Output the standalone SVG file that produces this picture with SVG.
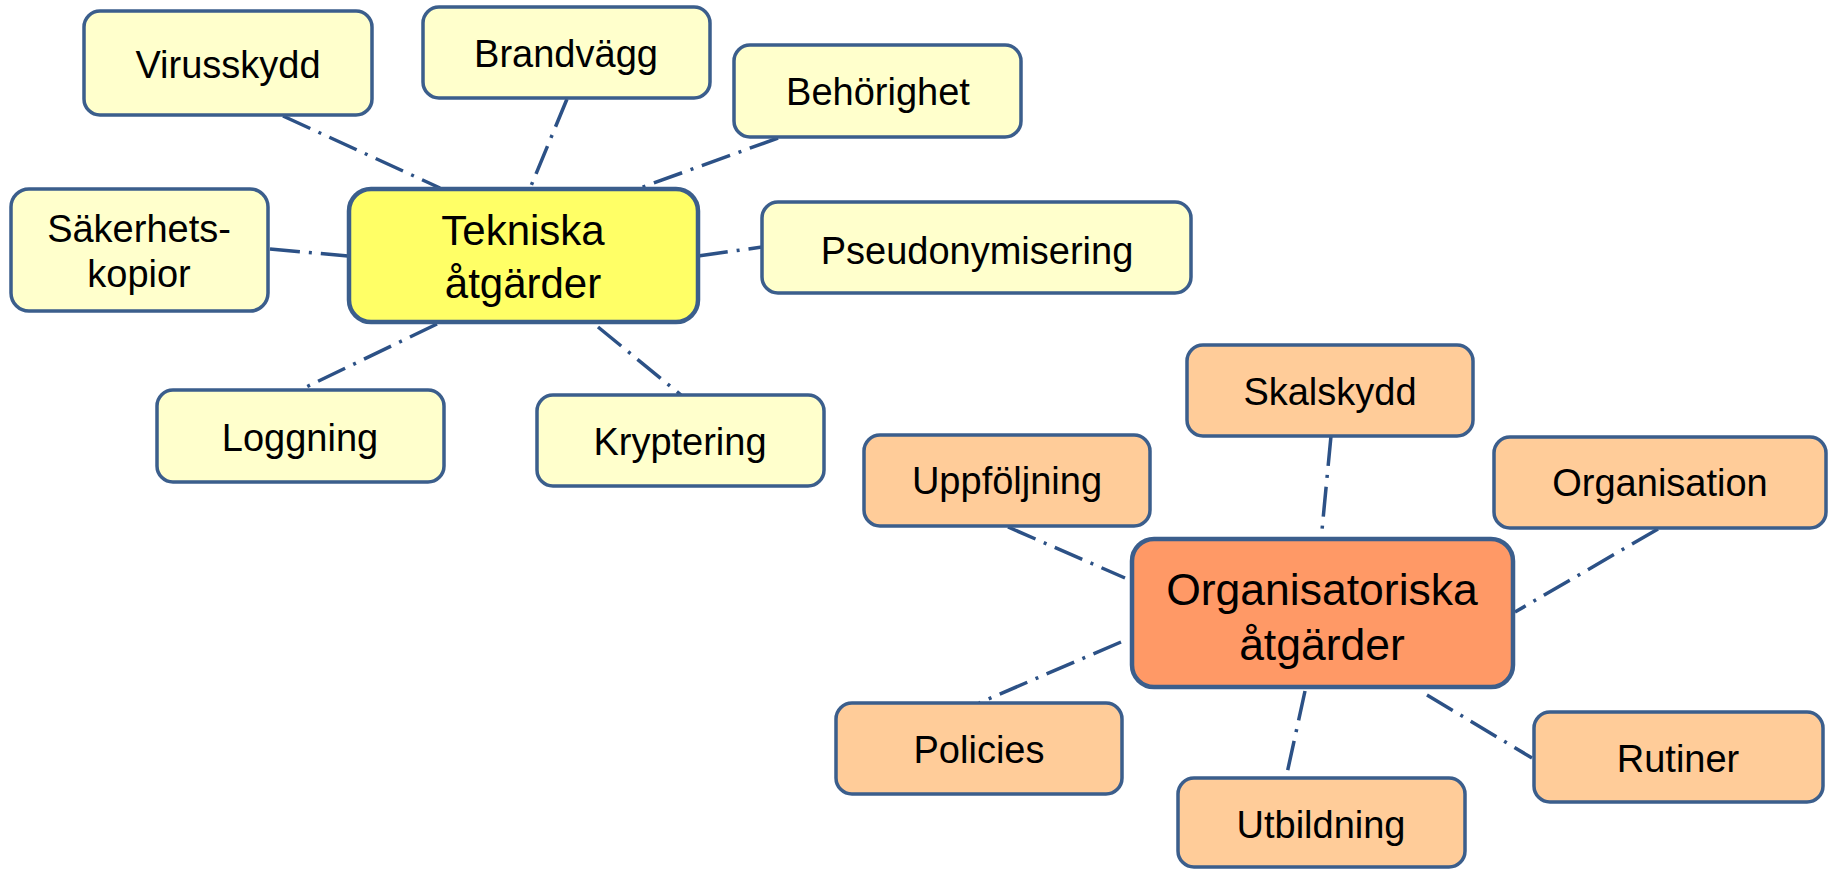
<svg xmlns="http://www.w3.org/2000/svg" width="1831" height="869" viewBox="0 0 1831 869">
<style>
.box{stroke:#3B5E8C;stroke-width:3.5}
.main{stroke:#3B5E8C;stroke-width:4.5}
.t1{fill:#FFFFCC}.t0{fill:#FFFF66}.o1{fill:#FFCC99}.o0{fill:#FF9966}
text{font-family:"Liberation Sans",Arial,sans-serif;fill:#000;text-anchor:middle}
.s{font-size:38px}.m{font-size:42px}.m2{font-size:44.5px}
#connectors line{stroke:#2C5186;stroke-width:3.5;stroke-dasharray:30 9 3 9;fill:none}
</style>
<rect width="1831" height="869" fill="#FFFFFF"/>
<g id="connectors">
<line x1="283" y1="116" x2="440" y2="188"/>
<line x1="567" y1="99" x2="531" y2="186"/>
<line x1="778" y1="138" x2="640" y2="188"/>
<line x1="270" y1="249" x2="348" y2="256"/>
<line x1="698" y1="256" x2="762" y2="247"/>
<line x1="437" y1="324" x2="300" y2="390"/>
<line x1="598" y1="327" x2="681" y2="395"/>
<line x1="1331" y1="436" x2="1322" y2="530"/>
<line x1="1008" y1="527" x2="1125" y2="578"/>
<line x1="1658" y1="529" x2="1515" y2="612"/>
<line x1="1121" y1="642" x2="979" y2="703"/>
<line x1="1305" y1="691" x2="1286" y2="778"/>
<line x1="1427" y1="695" x2="1532" y2="758"/>
</g>
<g id="virusskydd"><rect class="box t1" x="84" y="11" width="288" height="104" rx="16"/><text class="s" x="228" y="78">Virusskydd</text></g>
<g id="brandvagg"><rect class="box t1" x="423" y="7" width="287" height="91" rx="16"/><text class="s" x="566" y="67">Brandvägg</text></g>
<g id="behorighet"><rect class="box t1" x="734" y="45" width="287" height="92" rx="16"/><text class="s" x="878" y="105">Behörighet</text></g>
<g id="sakerhetskopior"><rect class="box t1" x="11" y="189" width="257" height="122" rx="18"/><text class="s" x="139" y="242">Säkerhets-</text><text class="s" x="139" y="287">kopior</text></g>
<g id="tekniska"><rect class="main t0" x="349" y="189" width="349" height="133" rx="22"/><text class="m" x="523" y="245">Tekniska</text><text class="m" x="523" y="298">åtgärder</text></g>
<g id="pseudonymisering"><rect class="box t1" x="762" y="202" width="429" height="91" rx="16"/><text class="s" x="977" y="264">Pseudonymisering</text></g>
<g id="loggning"><rect class="box t1" x="157" y="390" width="287" height="92" rx="16"/><text class="s" x="300" y="451">Loggning</text></g>
<g id="kryptering"><rect class="box t1" x="537" y="395" width="287" height="91" rx="16"/><text class="s" x="680" y="455">Kryptering</text></g>
<g id="skalskydd"><rect class="box o1" x="1187" y="345" width="286" height="91" rx="16"/><text class="s" x="1330" y="405">Skalskydd</text></g>
<g id="uppfoljning"><rect class="box o1" x="864" y="435" width="286" height="91" rx="16"/><text class="s" x="1007" y="494">Uppföljning</text></g>
<g id="organisation"><rect class="box o1" x="1494" y="437" width="332" height="91" rx="16"/><text class="s" x="1660" y="496">Organisation</text></g>
<g id="organisatoriska"><rect class="main o0" x="1132" y="539" width="381" height="148" rx="22"/><text class="m2" x="1322" y="605">Organisatoriska</text><text class="m2" x="1322" y="660">åtgärder</text></g>
<g id="policies"><rect class="box o1" x="836" y="703" width="286" height="91" rx="16"/><text class="s" x="979" y="763">Policies</text></g>
<g id="utbildning"><rect class="box o1" x="1178" y="778" width="287" height="89" rx="16"/><text class="s" x="1321" y="838">Utbildning</text></g>
<g id="rutiner"><rect class="box o1" x="1534" y="712" width="289" height="90" rx="16"/><text class="s" x="1678" y="772">Rutiner</text></g>
</svg>
